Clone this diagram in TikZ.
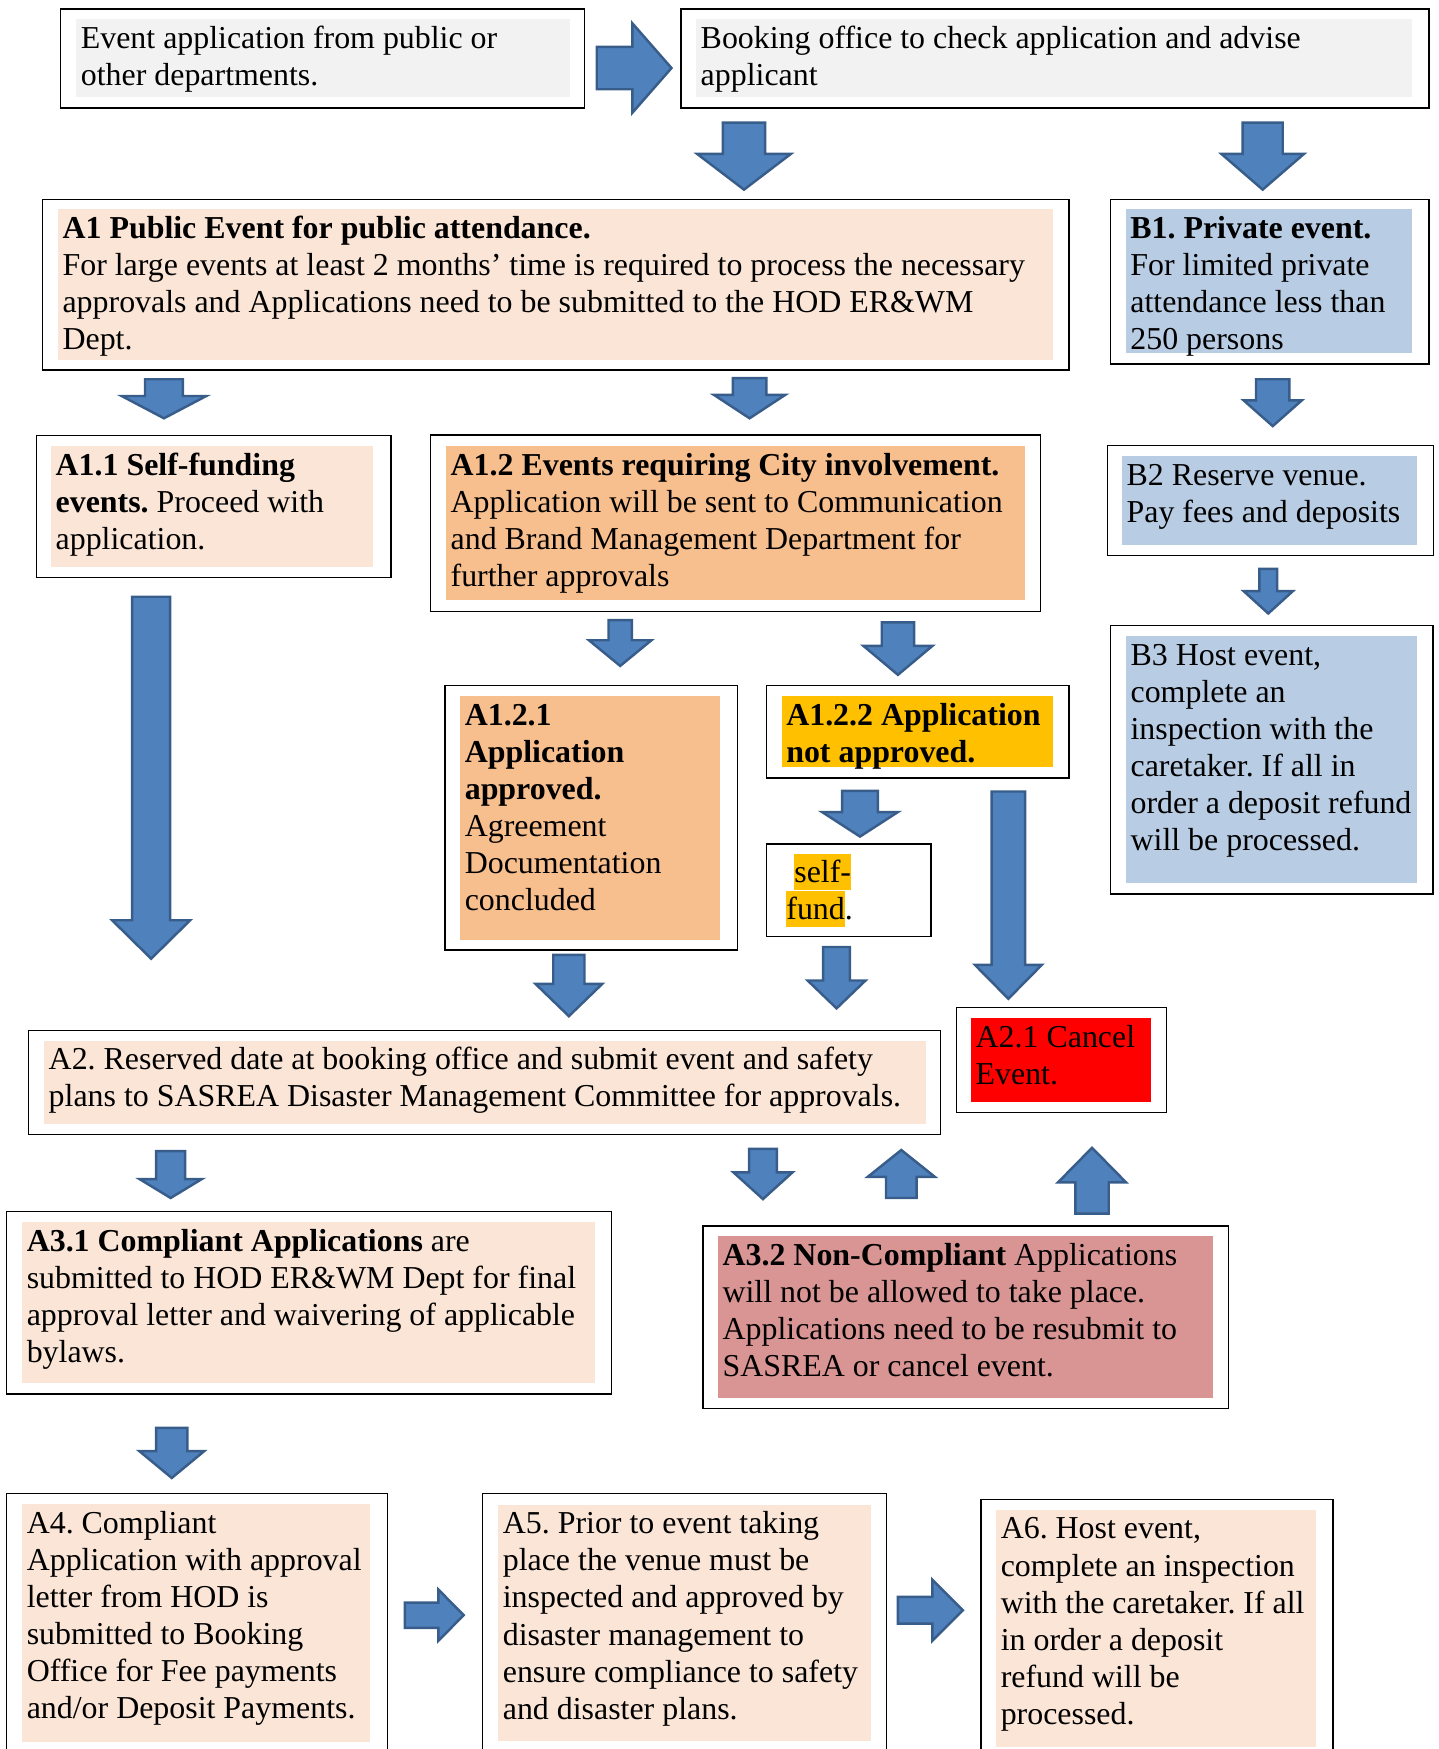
\documentclass[tikz,border=0pt]{standalone}
\usepackage{fontspec}
\setmainfont{Liberation Serif}
\definecolor{panelgray}{HTML}{F2F2F2}
\definecolor{peach}{HTML}{FBE5D6}
\definecolor{apricot}{HTML}{F7BE8E}
\definecolor{paleblue}{HTML}{B8CCE4}
\definecolor{hlgold}{HTML}{FFC000}
\definecolor{cancelred}{HTML}{FF0000}
\definecolor{rosepink}{HTML}{D99594}
\definecolor{arrowblue}{HTML}{4F81BD}
\definecolor{arrowedge}{HTML}{385D8A}

\newcommand{\bodyfont}{\fontsize{28.6}{33.3}\selectfont}
\newcommand{\markgold}[1]{{\setlength{\fboxsep}{0pt}\colorbox{hlgold}{\rule[-6.3pt]{0pt}{31.8pt}#1}}}
% block arrows: centre, half shaft, half head, tail, head base, tip
\newcommand{\blockv}[6]{\draw[blockarrow] ({#1-#2},#4) -- ({#1+#2},#4) -- ({#1+#2},#5) -- ({#1+#3},#5) -- (#1,#6) -- ({#1-#3},#5) -- ({#1-#2},#5) -- cycle;}
\newcommand{\blockh}[6]{\draw[blockarrow] (#4,{#1-#2}) -- (#5,{#1-#2}) -- (#5,{#1-#3}) -- (#6,#1) -- (#5,{#1+#3}) -- (#5,{#1+#2}) -- (#4,{#1+#2}) -- cycle;}

\tikzset{frame/.style={draw=black,line width=1.2pt,anchor=north west,inner sep=0pt},
  panel/.style={anchor=north west,inner sep=0pt,align=left,text height=26pt,
    execute at begin node={\leftskip=4pt\rightskip=-30pt plus 1fil\spaceskip=0.25em\relax\frenchspacing\hyphenpenalty=10000\relax}},
  blockarrow/.style={fill=arrowblue,draw=arrowedge,line width=2.2pt}}

\begin{document}
\begin{tikzpicture}[x=1pt,y=-1pt]
  \tikzstyle{every node}=[font=\bodyfont]
  \useasboundingbox (0,0) rectangle (1290,1568);
  % top row
  \node[frame,minimum width=470pt,minimum height=88.6pt] (evtframe) at (53.5,7.5) {};
  \node[panel,fill=panelgray,text width=442.1pt,text depth=43.4pt] (evt) at (68.3,17.1) {Event application from public or\\other departments.};
  \node[frame,minimum width=670.5pt,minimum height=88.6pt] (bookframe) at (610,7.5) {};
  \node[panel,fill=panelgray,text width=642pt,text depth=43.4pt] (book) at (624,17.1) {Booking office to check application and advise\\applicant};
  % public and private branches
  \node[frame,minimum width=920.4pt,minimum height=152.6pt] (aoneframe) at (37.5,178.4) {};
  \node[panel,fill=peach,text width=892pt,text depth=109.2pt] (aone) at (51.9,187.3) {\textbf{A1 Public Event for public attendance.}\\For large events at least 2 months’ time is required to process the necessary\\approvals and Applications need to be submitted to the HOD ER\&WM\\Dept.};
  \node[frame,minimum width=285.7pt,minimum height=147.2pt] (boneframe) at (994.8,178.4) {};
  \node[panel,fill=paleblue,text width=256.8pt,text depth=103pt] (bone) at (1009.2,187.3) {\textbf{B1. Private event.}\\For limited private\\attendance less than\\250 persons};
  \node[frame,minimum width=318pt,minimum height=127.4pt] (aoneoneframe) at (32,390) {};
  \node[panel,fill=peach,text width=288.9pt,text depth=82.1pt] (aoneone) at (45.7,399.7) {\textbf{A1.1 Self-funding}\\\textbf{events.} Proceed with\\application.};
  \node[frame,minimum width=546.5pt,minimum height=158pt] (aonetwoframe) at (385.5,389.5) {};
  \node[panel,fill=apricot,text width=519.2pt,text depth=112pt] (aonetwo) at (399.8,400) {\textbf{A1.2 Events requiring City involvement.}\\Application will be sent to Communication\\and Brand Management Department for\\further approvals};
  \node[frame,minimum width=292.7pt,minimum height=98.8pt] (btwoframe) at (992,398.7) {};
  \node[panel,fill=paleblue,text width=264.2pt,text depth=53pt] (btwo) at (1005.8,409) {B2 Reserve venue.\\Pay fees and deposits};
  \node[frame,minimum width=289pt,minimum height=240.5pt] (bthreeframe) at (995,560.3) {};
  \node[panel,fill=paleblue,text width=260.6pt,text depth=195.8pt] (bthree) at (1009.4,570) {B3 Host event,\\complete an\\inspection with the\\caretaker. If all in\\order a deposit refund\\will be processed.};
  % city involvement outcomes
  \node[frame,minimum width=262pt,minimum height=237pt] (okframe) at (398.4,614) {};
  \node[panel,fill=apricot,text width=233pt,text depth=192.7pt] (ok) at (412.5,624) {\textbf{A1.2.1}\\\textbf{Application}\\\textbf{approved.}\\Agreement\\Documentation\\concluded};
  \node[frame,minimum width=271.3pt,minimum height=83pt] (notokframe) at (686.5,614) {};
  \node[panel,fill=hlgold,text width=243.3pt,text depth=37.8pt] (notok) at (700.7,624) {\textbf{A1.2.2 Application}\\\textbf{not approved.}};
  \node[frame,minimum width=147.5pt,minimum height=83pt] (selfframe) at (686.5,756) {};
  \node[panel,text width=120pt,text height=25.5pt,text depth=6.3pt] (self) at (700.8,765.6) {\hspace*{0.25em}\markgold{self-}\\\markgold{fund}.};
  % booking and safety
  \node[frame,minimum width=817.8pt,minimum height=93.6pt] (atwoframe) at (24.7,923) {};
  \node[panel,fill=peach,text width=790.2pt,text depth=48.6pt] (atwo) at (39.5,932.9) {A2. Reserved date at booking office and submit event and safety\\plans to SASREA Disaster Management Committee for approvals.};
  \node[frame,minimum width=188.3pt,minimum height=94.2pt] (cancelframe) at (857,902.8) {};
  \node[panel,fill=cancelred,text width=161.3pt,text depth=49pt] (cancel) at (870.5,912.6) {A2.1 Cancel\\Event.};
  \node[frame,minimum width=542.4pt,minimum height=163.3pt] (compframe) at (5,1085.7) {};
  \node[panel,fill=peach,text width=513.6pt,text depth=118.5pt] (comp) at (19.8,1095.5) {\textbf{A3.1 Compliant Applications} are\\submitted to HOD ER\&WM Dept for final\\approval letter and waivering of applicable\\bylaws.};
  \node[frame,minimum width=471.1pt,minimum height=163.6pt] (noncompframe) at (629.7,1098.4) {};
  \node[panel,fill=rosepink,text width=443.6pt,text depth=118.8pt] (noncomp) at (643.6,1108) {\textbf{A3.2 Non-Compliant} Applications\\will not be allowed to take place.\\Applications need to be resubmit to\\SASREA or cancel event.};
  % bottom row
  \node[frame,minimum width=341.6pt,minimum height=300pt] (afourframe) at (5,1338.4) {};
  \node[panel,fill=peach,text width=312pt,text depth=187pt] (afour) at (19.8,1348.3) {A4. Compliant\\Application with approval\\letter from HOD is\\submitted to Booking\\Office for Fee payments\\and/or Deposit Payments.};
  \node[frame,minimum width=362.3pt,minimum height=300pt] (afiveframe) at (432,1338.5) {};
  \node[panel,fill=peach,text width=333.9pt,text depth=186.3pt] (afive) at (446.6,1348.7) {A5. Prior to event taking\\place the venue must be\\inspected and approved by\\disaster management to\\ensure compliance to safety\\and disaster plans.};
  \node[frame,minimum width=315.6pt,minimum height=300pt] (asixframe) at (878.9,1343.6) {};
  \node[panel,fill=peach,text width=287pt,text depth=186.5pt] (asix) at (893,1353.5) {A6. Host event,\\complete an inspection\\with the caretaker. If all\\in order a deposit\\refund will be\\processed.};
  % block arrows
  \blockh{61}{19}{40}{535}{567}{602}
  \blockv{667}{19}{42}{110}{138}{170}
  \blockv{1132}{18}{37}{110}{138}{170}
  \blockv{147}{17}{38}{340}{355}{375}
  \blockv{672}{15}{32}{339}{354}{375}
  \blockv{1141}{15}{26}{340}{359}{382}
  \blockv{1137}{8}{22}{510}{530}{550}
  \blockv{135.5}{17}{35}{535}{825}{859.5}
  \blockv{556}{10.5}{28}{556}{574}{597}
  \blockv{805}{14.5}{31}{558}{579}{605}
  \blockv{771}{16}{34}{709}{728}{750}
  \blockv{904}{15}{30}{709.6}{865}{895.4}
  \blockv{510}{14}{30}{856}{882}{911}
  \blockv{750}{12}{26}{849}{879}{904}
  \blockv{153}{13}{28}{1032}{1057}{1074}
  \blockv{684}{12.5}{26.5}{1030}{1051}{1075}
  \blockv{154}{14}{29}{1280}{1301}{1325}
  \blockv{808}{13.7}{30}{1074}{1055}{1031}
  \blockv{979}{15}{30.5}{1088}{1060}{1029}
  \blockh{1448}{11.3}{23}{363}{393}{415.7}
  \blockh{1443.6}{12}{27.4}{805}{835.8}{863.3}
\end{tikzpicture}
\end{document}
